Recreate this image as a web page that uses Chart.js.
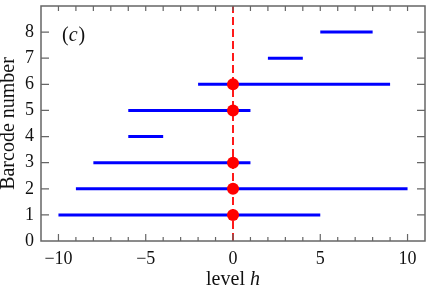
<!DOCTYPE html>
<html>
<head>
<meta charset="utf-8">
<script src="https://cdn.jsdelivr.net/npm/chart.js@4"></script>
<style>
html,body{margin:0;padding:0;background:#fff;}
#wrap{width:431px;height:290px;}
</style>
</head>
<body>
<div id="wrap"><canvas id="chart" width="431" height="290"></canvas></div>
<script>
// one interval per barcode number
var barcodeIds = [1, 2, 3, 4, 5, 6, 7, 8];
var barStart = [-10, -9, -8, -6, -6, -2, 2, 5];
var barEnd = [5, 10, 1, -4, 1, 9, 4, 8];
// red markers on the level h = 0 line
var dotBarcodes = [1, 2, 3, 5, 6];
var dotLevels = [0, 0, 0, 0, 0];
// axes
var xTickValues = [-10, -5, 0, 5, 10];
var yTickValues = [0, 1, 2, 3, 4, 5, 6, 7, 8];
var xRange = [-11, 11];
var yRange = [0, 9];
var refLevel = 0;

var serif = '"Liberation Serif", "DejaVu Serif", serif';
var textColor = '#111';
var frameColor = '#666';

function minus(v) {
  return v < 0 ? '\u2212' + Math.abs(v) : String(v);
}

var datasets = [];
barcodeIds.forEach(function (id, i) {
  datasets.push({
    data: [{x: barStart[i], y: id}, {x: barEnd[i], y: id}],
    showLine: true,
    borderColor: '#0000ff',
    borderWidth: 3,
    pointRadius: 0,
    order: 2
  });
});
// dashed reference line
datasets.push({
  data: [{x: refLevel, y: yRange[0]}, {x: refLevel, y: yRange[1]}],
  showLine: true,
  borderColor: '#ff1a1a',
  borderWidth: 2,
  borderDash: [8, 4],
  pointRadius: 0,
  order: 1
});
datasets.push({
  data: dotBarcodes.map(function (b, i) { return {x: dotLevels[i], y: b}; }),
  backgroundColor: '#ff0000',
  borderWidth: 0,
  pointRadius: 6,
  order: 0
});

// no extra room for edge labels, the chart area fills the frame
function noPad(s) {
  s.paddingTop = 0; s.paddingBottom = 0;
  s.paddingLeft = 0; s.paddingRight = 0;
}

// frame, inside ticks, x title and panel label
var framePlugin = {
  id: 'frame',
  afterDatasetsDraw: function (chart) {
    var ctx = chart.ctx, a = chart.chartArea;
    var xs = chart.scales.x, ys = chart.scales.y;
    ctx.save();
    ctx.strokeStyle = frameColor;
    ctx.lineWidth = 1.5;
    ctx.strokeRect(a.left, a.top, a.right - a.left, a.bottom - a.top);
    ctx.lineWidth = 1.2;
    ctx.beginPath();
    for (var v = -10; v <= 10; v++) {
      var px = xs.getPixelForValue(v);
      var len = v % 5 === 0 ? 7 : 4;
      ctx.moveTo(px, a.bottom); ctx.lineTo(px, a.bottom - len);
      ctx.moveTo(px, a.top); ctx.lineTo(px, a.top + 5);
    }
    for (var k = 1; k <= 8; k++) {
      var py = ys.getPixelForValue(k);
      ctx.moveTo(a.left, py); ctx.lineTo(a.left + 8, py);
      ctx.moveTo(a.right, py); ctx.lineTo(a.right - 8, py);
    }
    ctx.stroke();

    ctx.fillStyle = textColor;
    ctx.textBaseline = 'alphabetic';
    ctx.textAlign = 'left';
    // x title "level h"
    var f1 = '20px ' + serif, f2 = 'italic 20px ' + serif;
    ctx.font = f1; var w1 = ctx.measureText('level ').width;
    ctx.font = f2; var w2 = ctx.measureText('h').width;
    var cx = xs.getPixelForValue(refLevel);
    var x0 = cx - (w1 + w2) / 2;
    ctx.font = f1; ctx.fillText('level ', x0, 285);
    ctx.font = f2; ctx.fillText('h', x0 + w1, 285);
    // panel label "(c)"
    var lx = 62;
    ctx.font = f1; ctx.fillText('(', lx, 41);
    lx += ctx.measureText('(').width;
    ctx.font = f2; ctx.fillText('c', lx, 41);
    lx += ctx.measureText('c').width + 1;
    ctx.font = f1; ctx.fillText(')', lx, 41);
    ctx.restore();
  }
};

new Chart(document.getElementById('chart').getContext('2d'), {
  type: 'scatter',
  data: {datasets: datasets},
  options: {
    responsive: false,
    animation: false,
    devicePixelRatio: 1,
    layout: {padding: {top: 1, right: 2, left: 0, bottom: 0}},
    plugins: {legend: {display: false}, tooltip: {enabled: false}},
    scales: {
      x: {
        type: 'linear',
        min: xRange[0],
        max: xRange[1],
        grid: {display: false, drawTicks: false},
        border: {display: false},
        ticks: {
          font: {family: serif, size: 18},
          color: textColor,
          padding: 7,
          maxRotation: 0,
          autoSkip: false,
          callback: function (v) { return minus(v); }
        },
        afterBuildTicks: function (s) {
          s.ticks = xTickValues.map(function (v) { return {value: v}; });
        },
        afterFit: function (s) { s.height = 49; noPad(s); }
      },
      y: {
        type: 'linear',
        min: yRange[0],
        max: yRange[1],
        grid: {display: false, drawTicks: false},
        border: {display: false},
        ticks: {
          font: {family: serif, size: 18},
          color: textColor,
          padding: 7,
          autoSkip: false
        },
        afterBuildTicks: function (s) {
          s.ticks = yTickValues.map(function (v) { return {value: v}; });
        },
        title: {
          display: true,
          text: 'Barcode number',
          color: textColor,
          font: {family: serif, size: 20, lineHeight: 0.85},
          padding: {top: 0, bottom: 0}
        },
        afterFit: function (s) { s.width = 41; noPad(s); }
      }
    }
  },
  plugins: [framePlugin]
});
</script>
</body>
</html>
